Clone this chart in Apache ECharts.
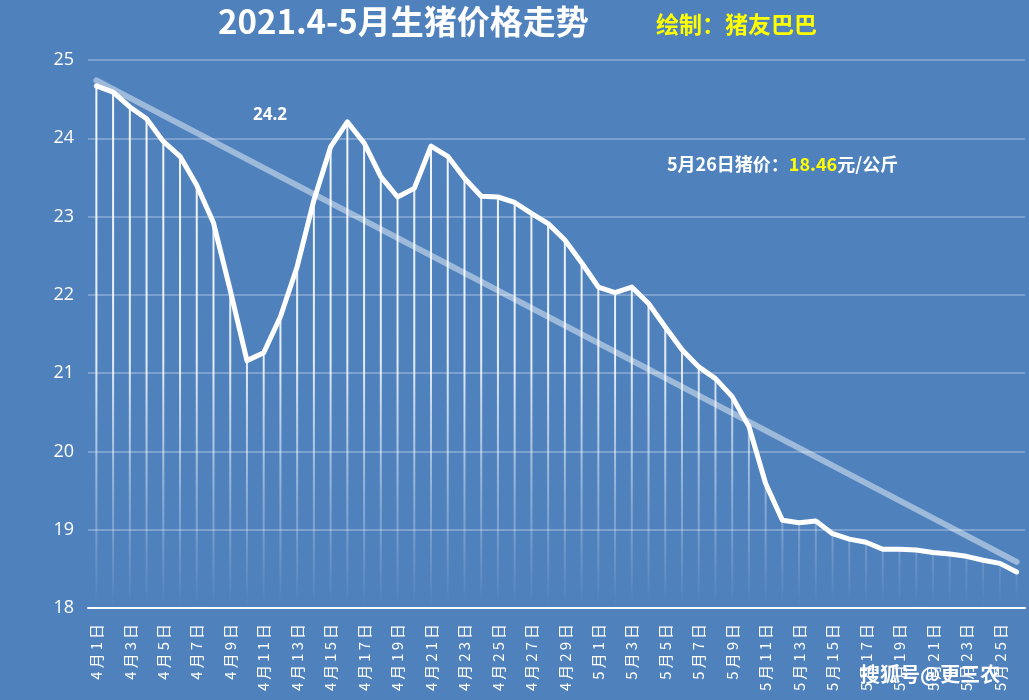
<!DOCTYPE html>
<html>
<head>
<meta charset="utf-8">
<script src="https://cdn.jsdelivr.net/npm/echarts@6/dist/echarts.min.js"></script>
<style>
html,body{margin:0;padding:0;background:#4f81bd;}
#c{width:1029px;height:700px;}
</style>
</head>
<body>
<div id="c"></div>
<script>
const categories = [
  '4月1日','4月2日','4月3日','4月4日','4月5日','4月6日','4月7日','4月8日','4月9日','4月10日',
  '4月11日','4月12日','4月13日','4月14日','4月15日','4月16日','4月17日','4月18日','4月19日','4月20日',
  '4月21日','4月22日','4月23日','4月24日','4月25日','4月26日','4月27日','4月28日','4月29日','4月30日',
  '5月1日','5月2日','5月3日','5月4日','5月5日','5月6日','5月7日','5月8日','5月9日','5月10日',
  '5月11日','5月12日','5月13日','5月14日','5月15日','5月16日','5月17日','5月18日','5月19日','5月20日',
  '5月21日','5月22日','5月23日','5月24日','5月25日','5月26日'
];
const prices = [
  24.67,24.59,24.40,24.25,23.96,23.77,23.40,22.92,22.06,21.16,
  21.26,21.72,22.36,23.21,23.89,24.21,23.94,23.51,23.25,23.36,
  23.90,23.77,23.49,23.26,23.25,23.18,23.04,22.91,22.70,22.41,
  22.10,22.03,22.10,21.89,21.59,21.30,21.08,20.93,20.70,20.32,
  19.59,19.12,19.09,19.11,18.95,18.88,18.84,18.75,18.75,18.74,
  18.71,18.69,18.66,18.61,18.57,18.46
];
// trend line endpoints (first and last day)
const trendStart = 24.74;
const trendEnd = 18.59;
const yTicks = { min: 18, max: 25, interval: 1 };
const titleText = '2021.4-5月生猪价格走势';
const authorText = '绘制：猪友巴巴';
const peakLabel = '24.2';
const lastDay = '5月26日';
const lastPrice = '18.46';
const watermark = '搜狐号@更三农';

const trendData = categories.map((c, i) => i === 0 ? trendStart : (i === categories.length - 1 ? trendEnd : '-'));

const chart = echarts.init(document.getElementById('c'));
chart.setOption({
  backgroundColor: '#4f81bd',
  animation: false,
  grid: { left: 88, right: 4, top: 60, bottom: 92 },
  xAxis: {
    type: 'category',
    data: categories,
    boundaryGap: true,
    axisLine: { lineStyle: { color: '#ffffff', width: 2 } },
    axisTick: { interval: 1, length: 7, lineStyle: { color: '#ffffff', width: 2 } },
    axisLabel: {
      interval: 1, rotate: 90, color: '#ffffff', fontSize: 15, margin: 16,
      fontFamily: 'Noto Sans CJK SC',
      formatter: v => v.split('').join('\u2009')
    },
    splitLine: { show: false }
  },
  yAxis: {
    type: 'value', min: yTicks.min, max: yTicks.max, interval: yTicks.interval,
    axisLine: { show: false }, axisTick: { show: false },
    axisLabel: { color: '#ffffff', fontSize: 18, margin: 14, fontFamily: 'Open Sans' },
    splitLine: { lineStyle: { color: 'rgba(255,255,255,0.35)', width: 1.5 } }
  },
  series: [
    {
      type: 'bar', data: prices, barWidth: 2, z: 1, silent: true,
      itemStyle: {
        color: new echarts.graphic.LinearGradient(0, 60, 0, 606, [
          { offset: 0, color: 'rgba(255,255,255,0.95)' },
          { offset: 0.55, color: 'rgba(255,255,255,0.85)' },
          { offset: 0.8, color: 'rgba(255,255,255,0.35)' },
          { offset: 1, color: 'rgba(255,255,255,0.0)' }
        ], true)
      }
    },
    {
      type: 'line', data: trendData, connectNulls: true, z: 2,
      symbol: 'none', silent: true,
      lineStyle: { color: 'rgba(255,255,255,0.45)', width: 6, cap: 'round' }
    },
    {
      type: 'line', data: prices, z: 3, symbol: 'none', silent: true,
      lineStyle: { color: '#ffffff', width: 5, join: 'round', cap: 'round' }
    }
  ],
  graphic: [
    { type: 'text', left: 218, top: 5, style: { text: titleText, fill: '#ffffff', font: 'bold 33px "Noto Sans CJK SC"' } },
    { type: 'text', left: 656, top: 13, style: { text: authorText, fill: '#ffff00', font: 'bold 23px "Noto Sans CJK SC"' } },
    { type: 'text', left: 253, top: 107, style: { text: peakLabel, fill: '#ffffff', font: 'bold 17px "Open Sans"' } },
    { type: 'text', left: 667, top: 155, style: {
        text: '{a|' + lastDay + '猪价：}{b|' + lastPrice + '}{a|元/公斤}',
        rich: {
          a: { fill: '#ffffff', font: 'bold 18px "Noto Sans CJK SC"' },
          b: { fill: '#ffff00', font: 'bold 18px "Noto Sans CJK SC"' }
        }
      } },
    { type: 'text', left: 860, top: 664, z: 100, style: {
        text: watermark, fill: '#ffffff', font: 'bold 20px "Noto Sans CJK SC"',
        textShadowColor: '#000000', textShadowOffsetX: 2, textShadowOffsetY: 2, textShadowBlur: 0
      } }
  ]
});
</script>
</body>
</html>
